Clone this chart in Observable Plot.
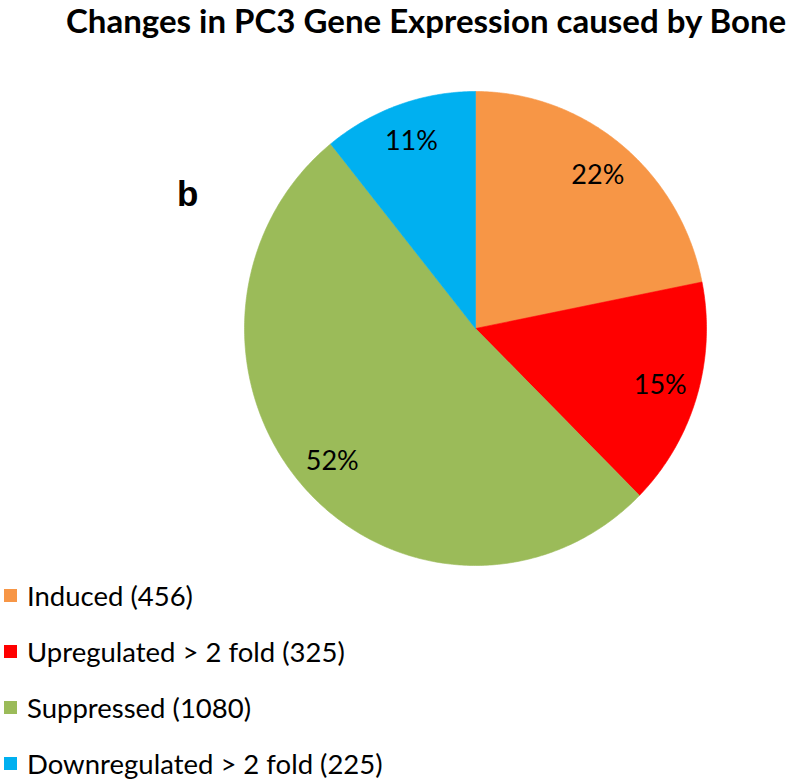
<!DOCTYPE html>
<html>
<head>
<meta charset="utf-8">
<script src="https://cdn.jsdelivr.net/npm/d3@7"></script>
<script src="https://cdn.jsdelivr.net/npm/@observablehq/plot@0.6"></script>
<style>
  html, body { margin: 0; padding: 0; background: #fff; }
  #page { position: relative; width: 800px; height: 780px; overflow: hidden; font-family: Lato, "Open Sans", sans-serif; color: #000; }
  #title { position: absolute; left: 66px; top: 0px; font-weight: bold; font-size: 33px; line-height: normal; white-space: nowrap; }
  #panel { position: absolute; left: 177px; top: 176px; font-family: "Liberation Sans", Arial, sans-serif; font-weight: bold; font-size: 35px; line-height: 36px; }
  #chart { position: absolute; left: 0; top: 50px; }
  #legend { position: absolute; left: 0; top: 567px; }
  .row { display: flex; align-items: center; height: 56px; font-size: 27.5px; white-space: nowrap; }
  .sw { width: 13px; height: 13px; margin-left: 4px; margin-right: 10px; }
</style>
</head>
<body>
<div id="page">
  <div id="title"></div>
  <div id="panel"></div>
  <div id="chart"></div>
  <div id="legend"></div>
</div>
<script>
// ---- data ----
const titleText = "Changes in PC3 Gene Expression caused by Bone";
const panelLabel = "b";
const categories = ["Induced", "Upregulated > 2 fold", "Suppressed", "Downregulated > 2 fold"];
const counts = [456, 325, 1080, 225];
const percentLabels = ["22%", "15%", "52%", "11%"];
const colors = ["#F79646", "#FF0000", "#9BBB59", "#00B0F0"];

// ---- layout options ----
const W = 800, H = 530;          // SVG size
const cx = 475, cy = 278;        // pie centre in SVG pixels
const rx = 231, ry = 237;        // pixels per unit radius
const labelRadius = 0.835;

document.getElementById("title").textContent = titleText;
document.getElementById("panel").textContent = panelLabel;

const arcs = d3.pie().sort(null).value(d => d.count)(
  categories.map((c, i) => ({category: c, count: counts[i], label: percentLabels[i]}))
);

// polygon vertices for each slice, in unit-radius coordinates
const pts = [];
arcs.forEach(a => {
  const cat = a.data.category;
  pts.push({category: cat, x: 0, y: 0});
  const n = Math.max(8, Math.ceil((a.endAngle - a.startAngle) / 0.01));
  for (let k = 0; k <= n; k++) {
    const t = a.startAngle + (a.endAngle - a.startAngle) * k / n;
    pts.push({category: cat, x: Math.sin(t), y: Math.cos(t)});
  }
  pts.push({category: cat, x: 0, y: 0});
});

const labels = arcs.map(a => {
  const m = (a.startAngle + a.endAngle) / 2;
  return {label: a.data.label, x: labelRadius * Math.sin(m), y: labelRadius * Math.cos(m)};
});

const plot = Plot.plot({
  width: W,
  height: H,
  margin: 0,
  x: {domain: [-cx / rx, (W - cx) / rx], axis: null},
  y: {domain: [-(H - cy) / ry, cy / ry], axis: null},
  color: {domain: categories, range: colors},
  style: {background: "transparent", fontFamily: "Lato, 'Open Sans', sans-serif"},
  marks: [
    Plot.line(pts, {x: "x", y: "y", z: "category", fill: "category", stroke: "category", strokeWidth: 0.6, curve: "linear-closed"}),
    Plot.text(labels, {x: "x", y: "y", text: "label", fontSize: 27, fill: "#000"})
  ]
});
document.getElementById("chart").appendChild(plot);

const legend = document.getElementById("legend");
categories.forEach((c, i) => {
  const row = document.createElement("div");
  row.className = "row";
  const sw = document.createElement("div");
  sw.className = "sw";
  sw.style.background = colors[i];
  const tx = document.createElement("span");
  tx.textContent = `${c} (${counts[i]})`;
  row.appendChild(sw);
  row.appendChild(tx);
  legend.appendChild(row);
});
</script>
</body>
</html>
